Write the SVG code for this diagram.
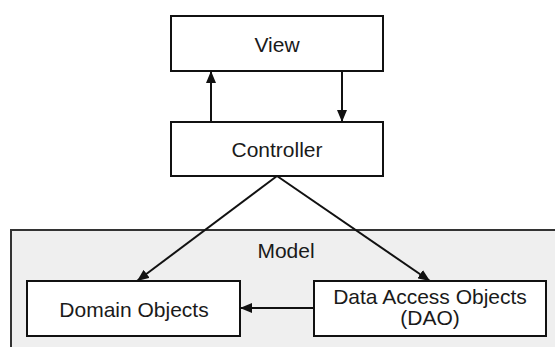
<svg xmlns="http://www.w3.org/2000/svg" width="555" height="347" viewBox="0 0 555 347">
<style>
.box{fill:#fff;stroke:#111;stroke-width:2}
.lbl{font-family:"Liberation Sans",Arial,sans-serif;font-size:21px;fill:#1a1a1a;text-anchor:middle}
.con{stroke:#111;stroke-width:2;fill:none;marker-end:url(#ah)}
</style>
<defs>
<marker id="ah" viewBox="0 0 12 10" refX="12" refY="5" markerWidth="12" markerHeight="10" markerUnits="userSpaceOnUse" orient="auto">
<path d="M0,0 L12,5 L0,10 Z" fill="#111"/>
</marker>
</defs>
<rect width="555" height="347" fill="#fff"/>
<g id="model">
<rect x="11" y="230" width="560" height="130" fill="#efefef" stroke="#333" stroke-width="2"/>
<text class="lbl" x="286" y="258">Model</text>
</g>
<g id="view">
<rect class="box" x="171" y="16" width="212" height="55"/>
<text class="lbl" x="277" y="52">View</text>
</g>
<g id="controller">
<rect class="box" x="171" y="122" width="212" height="54"/>
<text class="lbl" x="277" y="157">Controller</text>
</g>
<g id="domain">
<rect class="box" x="27" y="281" width="213" height="55"/>
<text class="lbl" x="134" y="316.5">Domain Objects</text>
</g>
<g id="dao">
<rect class="box" x="314" y="281" width="232" height="55"/>
<text class="lbl" x="430" y="304">Data Access Objects</text>
<text class="lbl" x="430" y="325">(DAO)</text>
</g>
<g id="connectors">
<line class="con" x1="211" y1="122" x2="211" y2="71"/>
<line class="con" x1="342" y1="71" x2="342" y2="122"/>
<line class="con" x1="277" y1="176" x2="137" y2="281"/>
<line class="con" x1="277" y1="176" x2="430" y2="281"/>
<line class="con" x1="314" y1="308" x2="240" y2="308"/>
</g>
</svg>
